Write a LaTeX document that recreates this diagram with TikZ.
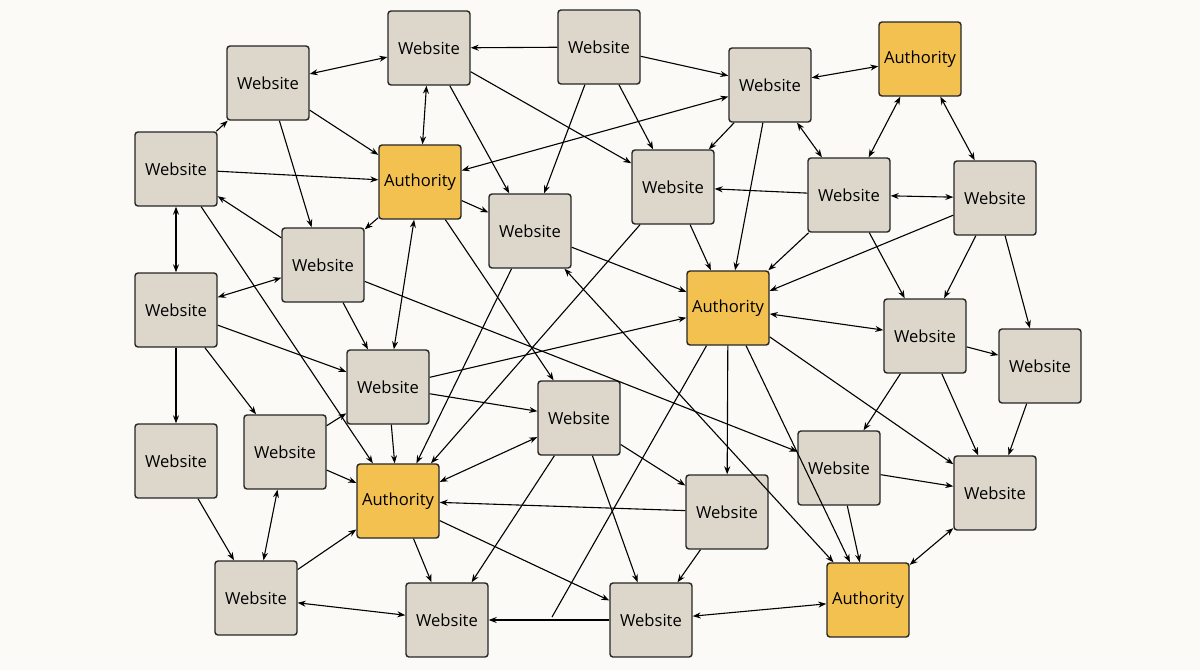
\documentclass[tikz,border=0pt]{standalone}
\usepackage{fontspec}
\setmainfont{Open Sans}
\usetikzlibrary{arrows.meta}
\definecolor{bg}{HTML}{FBFAF6}
\definecolor{web}{HTML}{DDD7CB}
\definecolor{auth}{HTML}{F3C150}
\tikzset{
 box/.style={draw=black!85,line width=0.7pt,rounded corners=1.5pt,minimum width=41pt,minimum height=37pt,inner sep=0pt,font=\fontsize{8.3}{9}\selectfont},
 ws/.style={box,fill=web},
 au/.style={box,fill=auth},
 e/.style={-{Stealth[length=4pt,width=3pt]},line width=0.55pt},
 b/.style={{Stealth[length=4pt,width=3pt]}-{Stealth[length=4pt,width=3pt]},line width=0.55pt}
}
\begin{document}
\begin{tikzpicture}[x=0.5pt,y=-0.5pt]
\fill[bg] (0,0) rectangle (1200,670);
\useasboundingbox (0,0) rectangle (1200,670);
\node[ws] (W1) at (429,48) {Website};
\node[ws] (W2) at (599,47) {Website};
\node[au] (A1) at (920,59) {Authority};
\node[ws] (W3) at (268,83) {Website};
\node[ws] (W4) at (770,85) {Website};
\node[ws] (W5) at (176,169) {Website};
\node[au] (A2) at (420,182) {Authority};
\node[ws] (W6) at (673,187) {Website};
\node[ws] (W7) at (849,195) {Website};
\node[ws] (W8) at (995,198) {Website};
\node[ws] (W9) at (530,231) {Website};
\node[ws] (W10) at (323,265) {Website};
\node[au] (A3) at (728,308) {Authority};
\node[ws] (W11) at (176,310) {Website};
\node[ws] (W12) at (925,336) {Website};
\node[ws] (W13) at (1040,366) {Website};
\node[ws] (W14) at (388,387) {Website};
\node[ws] (W15) at (579,418) {Website};
\node[ws] (W16) at (176,461) {Website};
\node[ws] (W17) at (285,452) {Website};
\node[ws] (W18) at (839,468) {Website};
\node[ws] (W19) at (995,493) {Website};
\node[au] (A4) at (398,501) {Authority};
\node[ws] (W20) at (727,512) {Website};
\node[ws] (W21) at (256,598) {Website};
\node[ws] (W22) at (447,620) {Website};
\node[ws] (W23) at (651,620) {Website};
\node[au] (A5) at (868,600) {Authority};
\coordinate (J) at (552,617);
\foreach \a/\b in {W2/W1,W2/W4,W2/W9,W2/W6,W1/W9,W1/W6,W3/A2,W3/W10,W4/W6,W4/A3,
 W7/W6,W7/A3,W7/W12,W8/A3,W8/W12,W8/W13,W5/W3,W5/A2,W5/A4,W10/W5,A2/W10,
 W11/W14,W11/W16,W11/W17,W10/W14,W10/W18,A2/W15,A2/W9,W9/A3,W9/A4,W6/A4,W6/A3,
 W14/A3,W14/W15,W14/A4,W17/W14,A3/W20,A3/W19,A3/A5,W12/W13,W12/W18,W12/W19,
 W13/W19,W15/W20,W15/W22,W15/W23,W16/W21,W17/A4,W18/W19,W18/A5,W20/A4,W20/W23,
 W21/A4,A4/W22,A4/W23,W23/W22}
 \draw[e] (\a) -- (\b);
\draw[line width=0.55pt] (A3) -- (J);
\foreach \a/\b in {W1/W3,W1/A2,W4/A1,W4/A2,W4/W7,A1/W7,A1/W8,W7/W8,W5/W11,
 W11/W10,A2/W14,A3/W12,W9/A5,W15/A4,W17/W21,W19/A5,W21/W22,W23/A5}
 \draw[b] (\a) -- (\b);
\end{tikzpicture}
\end{document}
